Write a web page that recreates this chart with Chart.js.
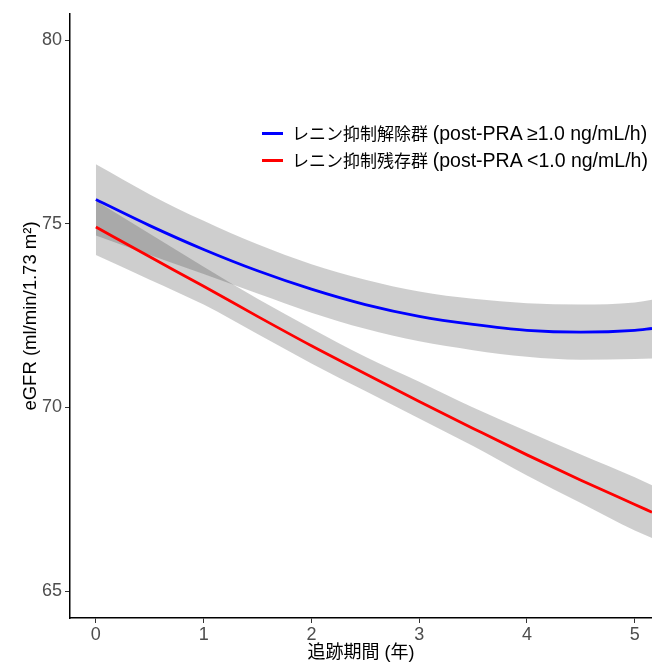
<!DOCTYPE html>
<html lang="ja">
<head>
  <meta charset="UTF-8" />
  <title>eGFR trajectories</title>
  <script src="https://cdn.jsdelivr.net/npm/chart.js"></script>
  <style>
    body { margin: 0; background: #fff; }
    .wrap { position: relative; width: 652px; height: 664px; }
    canvas { display: block; }
    .legend {
      position: absolute;
      left: 262px;
      top: 120px;
      font-family: "Liberation Sans", "Noto Sans CJK JP", sans-serif;
      font-size: 17px;
      color: #000;
      white-space: nowrap;
    }
    .legend div { height: 27px; line-height: 27px; }
    .legend .crit { font-size: 19.5px; }
    .legend span.key {
      display: inline-block;
      width: 21px;
      height: 3px;
      vertical-align: middle;
      margin-right: 9px;
      position: relative;
      top: -2px;
    }
  </style>
</head>
<body>
  <div class="wrap">
    <canvas id="egfrChart" width="652" height="664"></canvas>
    <div class="legend" id="legend"></div>
  </div>

  <script>
    // values (follow-up years vs eGFR)
    const years = [0, 0.5, 1, 1.5, 2, 2.5, 3, 3.5, 4, 4.5, 5, 5.16];

    const releasedFit   = [75.66, 74.95, 74.30, 73.72, 73.22, 72.80, 72.48, 72.26, 72.10, 72.05, 72.10, 72.15];
    const releasedUpper = [76.62, 75.80, 75.08, 74.44, 73.90, 73.48, 73.16, 72.96, 72.84, 72.80, 72.86, 72.93];
    const releasedLower = [74.68, 74.15, 73.63, 73.10, 72.58, 72.14, 71.80, 71.56, 71.38, 71.30, 71.32, 71.33];

    const residualFit   = [74.91, 74.10, 73.30, 72.48, 71.68, 70.92, 70.16, 69.43, 68.71, 68.02, 67.36, 67.15];
    const residualUpper = [75.63, 74.73, 73.83, 72.96, 72.15, 71.38, 70.70, 70.00, 69.35, 68.72, 68.10, 67.88];
    const residualLower = [74.15, 73.48, 72.80, 72.00, 71.20, 70.45, 69.70, 68.95, 68.15, 67.40, 66.65, 66.45];

    const xTicks = [0, 1, 2, 3, 4, 5];
    const yTicks = [65, 70, 75, 80];

    const seriesGroups = ['レニン抑制解除群', 'レニン抑制残存群'];
    const seriesCriteria = ['(post-PRA ≥1.0 ng/mL/h)', '(post-PRA <1.0 ng/mL/h)'];
    const seriesColors = ['#0000ff', '#ff0000'];

    const toXY = vals => vals.map((v, i) => ({ x: years[i], y: v }));

    const bandFill = 'rgba(60, 60, 60, 0.25)';
    const tickFont = { family: '"Liberation Sans", Arial, sans-serif', size: 18 };
    const smooth = { cubicInterpolationMode: 'monotone', pointRadius: 0 };

    const ctx = document.getElementById('egfrChart').getContext('2d');

    const chart = new Chart(ctx, {
      type: 'line',
      data: {
        datasets: [
          { ...smooth, data: toXY(releasedUpper), borderWidth: 0, fill: '+1', backgroundColor: bandFill, order: 2 },
          { ...smooth, data: toXY(releasedLower), borderWidth: 0, fill: false, order: 2 },
          { ...smooth, data: toXY(residualUpper), borderWidth: 0, fill: '+1', backgroundColor: bandFill, order: 2 },
          { ...smooth, data: toXY(residualLower), borderWidth: 0, fill: false, order: 2 },
          { ...smooth, label: seriesGroups[0], data: toXY(releasedFit), borderColor: seriesColors[0], borderWidth: 2.8, fill: false, order: 0 },
          { ...smooth, label: seriesGroups[1], data: toXY(residualFit), borderColor: seriesColors[1], borderWidth: 2.8, fill: false, order: 0 }
        ]
      },
      options: {
        responsive: false,
        animation: false,
        layout: { padding: { top: 14, right: 0, left: 0, bottom: 0 } },
        plugins: {
          legend: { display: false },
          tooltip: { enabled: false }
        },
        scales: {
          x: {
            type: 'linear',
            min: -0.24,
            max: 5.16,
            afterBuildTicks: s => { s.ticks = xTicks.map(v => ({ value: v })); },
            afterFit: s => { s.height = 46; },
            grid: { drawOnChartArea: false, drawTicks: true, tickLength: 5, color: '#333' },
            border: { display: true, color: '#000', width: 1.5 },
            ticks: { color: '#4d4d4d', font: tickFont, padding: 1, maxRotation: 0 },
            title: {
              display: true,
              text: '追跡期間 (年)',
              color: '#000',
              font: { family: '"Liberation Sans", "Noto Sans CJK JP", sans-serif', size: 18 },
              padding: { top: 0, bottom: 0 }
            }
          },
          y: {
            min: 64.27,
            max: 80.71,
            afterBuildTicks: s => { s.ticks = yTicks.map(v => ({ value: v })); },
            afterFit: s => { s.width = 70; },
            grid: { drawOnChartArea: false, drawTicks: true, tickLength: 5, color: '#333' },
            border: { display: true, color: '#000', width: 1.5 },
            ticks: { color: '#4d4d4d', font: tickFont, padding: 3 },
            title: {
              display: true,
              text: 'eGFR (ml/min/1.73 m²)',
              color: '#000',
              font: { family: '"Liberation Sans", Arial, sans-serif', size: 18.5 },
              padding: { top: 20, bottom: 0 }
            }
          }
        }
      }
    });

    // legend sits inside the plot, as in the figure
    const legend = document.getElementById('legend');
    seriesGroups.forEach((name, i) => {
      const row = document.createElement('div');
      const key = document.createElement('span');
      key.className = 'key';
      key.style.background = seriesColors[i];
      const crit = document.createElement('span');
      crit.className = 'crit';
      crit.textContent = seriesCriteria[i];
      row.appendChild(key);
      row.appendChild(document.createTextNode(name + ' '));
      row.appendChild(crit);
      legend.appendChild(row);
    });
  </script>
</body>
</html>
